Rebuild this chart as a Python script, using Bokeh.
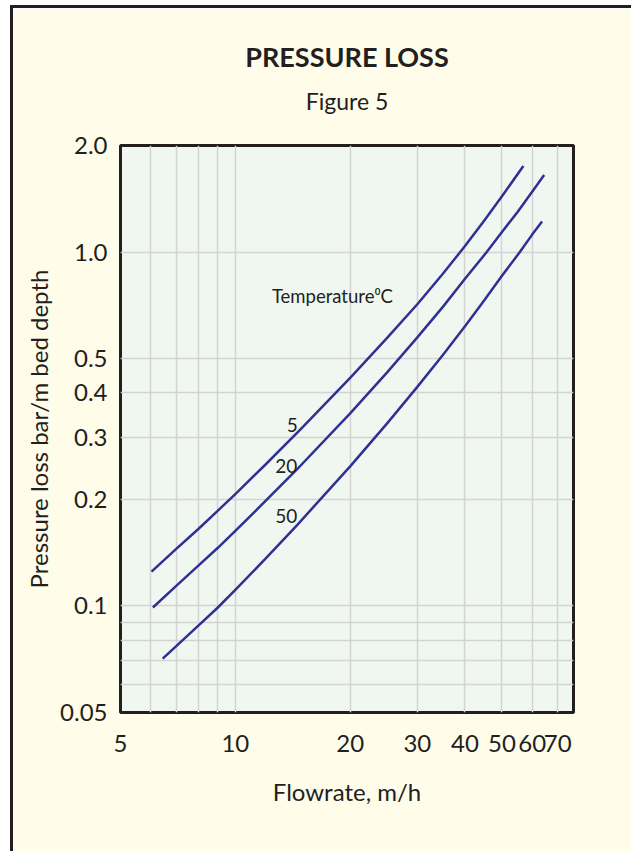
from bokeh.plotting import figure
from bokeh.models import FixedTicker, Label, Range1d, Title
from bokeh.embed import file_html
from bokeh.resources import INLINE

# ---- data ----
flow_5 = [6.03, 7, 8, 9, 10, 12, 14.8, 20, 25, 30, 35, 40, 45, 50, 56.9]
loss_5 = [0.125, 0.145, 0.165, 0.186, 0.207, 0.251, 0.315, 0.441, 0.572, 0.712, 0.868, 1.04, 1.23, 1.437, 1.75]

flow_20 = [6.08, 7, 8, 9, 10, 12, 14.5, 20, 25, 30, 35, 40, 45.6, 50, 55, 60, 64.5]
loss_20 = [0.099, 0.114, 0.130, 0.146, 0.163, 0.198, 0.243, 0.35, 0.457, 0.574, 0.70, 0.84, 1.0, 1.14, 1.30, 1.48, 1.65]

flow_50 = [6.45, 7, 8, 9, 10, 12, 14.5, 20, 25, 30, 35, 40, 45, 50, 55.7, 60, 63.7]
loss_50 = [0.071, 0.077, 0.088, 0.099, 0.111, 0.136, 0.169, 0.248, 0.328, 0.416, 0.512, 0.617, 0.732, 0.857, 1.0, 1.12, 1.22]

x_ticks = [5, 10, 20, 30, 40, 50, 60, 70]
x_tick_labels = ["5", "10", "20", "30", "40", "50", "60", "70"]
y_ticks = [0.05, 0.1, 0.2, 0.3, 0.4, 0.5, 1.0, 2.0]
y_tick_labels = ["0.05", "0.1", "0.2", "0.3", "0.4", "0.5", "1.0", "2.0"]
x_grid = [6, 7, 8, 9, 10, 20, 30, 40, 50, 60, 70]
y_grid = [0.06, 0.07, 0.08, 0.09, 0.1, 0.2, 0.3, 0.4, 0.5, 1.0]

curve_labels = ["5", "20", "50"]
curve_label_x = [14.1, 13.6, 13.6]
curve_label_y = [0.325, 0.249, 0.179]

title_text = "PRESSURE LOSS"
subtitle_text = "Figure 5"
x_label = "Flowrate, m/h"
y_label = "Pressure loss bar/m bed depth"
legend_title = "Temperature\u2070C"
legend_x, legend_y = 12.47, 0.75

X_START, X_END = 5, 77
Y_START, Y_END = 0.05, 2.0

# ---- style ----
FONT = "Lato"
TEXT = "#231F20"
CREAM = "#FFFCEA"
PLOT_BG = "#F0F7F1"
GRID = "#D3D3D3"
CURVE = "#2E3192"

FRAME_H = 567

p = figure(
    width=621, height=846,
    x_axis_type="log", y_axis_type="log",
    x_range=Range1d(X_START, X_END), y_range=Range1d(Y_START, Y_END),
    output_backend="svg", toolbar_location=None, title=None,
    min_border_left=107, min_border_right=61,
    min_border_top=137, min_border_bottom=846 - 137 - FRAME_H,
)
p.margin = (5, 0, 0, 10)
p.styles = {"border-top": "3px solid #231F20", "border-left": "3px solid #231F20"}

p.background_fill_color = PLOT_BG
p.border_fill_color = CREAM
p.outline_line_color = TEXT
p.outline_line_width = 3

for ax in (p.xaxis[0], p.yaxis[0]):
    ax.axis_line_color = None
    ax.major_tick_line_color = None
    ax.minor_tick_line_color = None
    ax.major_label_text_font = FONT
    ax.major_label_text_font_size = "24px"
    ax.major_label_text_color = TEXT
    ax.axis_label_text_font = FONT
    ax.axis_label_text_font_size = "24px"
    ax.axis_label_text_font_style = "normal"
    ax.axis_label_text_color = TEXT

p.xaxis.ticker = FixedTicker(ticks=x_ticks)
p.xaxis.major_label_overrides = dict(zip(x_ticks, x_tick_labels))
p.xaxis.major_label_standoff = 16
p.xaxis.axis_label = x_label
p.xaxis.axis_label_standoff = 22

p.yaxis.ticker = FixedTicker(ticks=y_ticks)
p.yaxis.major_label_overrides = dict(zip(y_ticks, y_tick_labels))
p.yaxis.major_label_standoff = 7
p.yaxis.axis_label = y_label
p.yaxis.axis_label_standoff = 4

p.xgrid.ticker = FixedTicker(ticks=x_grid)
p.ygrid.ticker = FixedTicker(ticks=y_grid)
for g in (p.xgrid[0], p.ygrid[0]):
    g.grid_line_color = GRID
    g.grid_line_width = 1.5

for fx, fy in ((flow_5, loss_5), (flow_20, loss_20), (flow_50, loss_50)):
    p.line(fx, fy, line_color=CURVE, line_width=2.5, line_join="round")

for t, lx, ly in zip(curve_labels, curve_label_x, curve_label_y):
    p.add_layout(Label(x=lx, y=ly, text=t, text_font=FONT, text_font_size="19px",
                       text_color=TEXT, text_align="center", text_baseline="middle"))

p.add_layout(Label(x=legend_x, y=legend_y, text=legend_title, text_font=FONT,
                   text_font_size="18.5px", text_color=TEXT, text_align="left",
                   text_baseline="middle"))

# titles above the frame: an empty spacer, then the subtitle, then the title
p.add_layout(Title(text=" ", text_font=FONT, text_font_size="2px", standoff=27), "above")
p.add_layout(Title(text=subtitle_text, align="center", text_font=FONT,
                   text_font_size="23px", text_font_style="normal",
                   text_color=TEXT, standoff=0), "above")
p.add_layout(Title(text=title_text, align="center", text_font=FONT,
                   text_font_size="27px", text_font_style="bold",
                   text_color=TEXT, standoff=24), "above")

open("out.html", "w").write(file_html(p, INLINE))
